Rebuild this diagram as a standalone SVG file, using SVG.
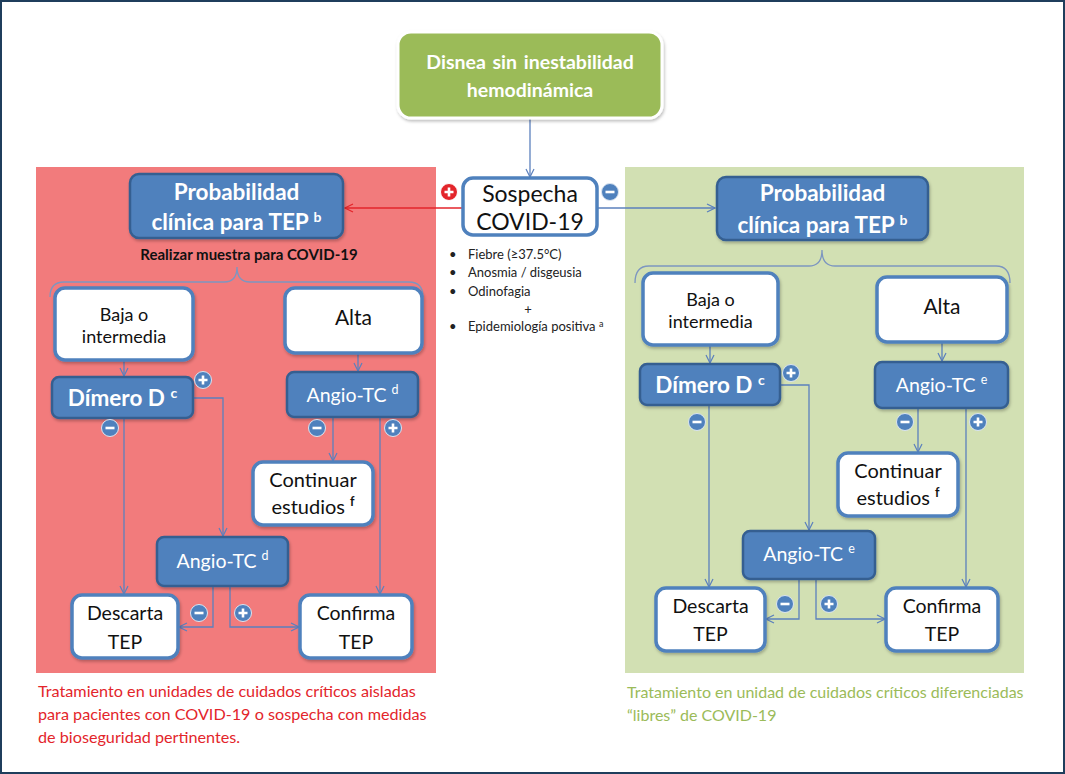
<svg xmlns="http://www.w3.org/2000/svg" width="1065" height="774" viewBox="0 0 1065 774">
<defs>
<style>
text{font-family:Lato,"Liberation Sans",Arial,sans-serif;}
.wbox{fill:#ffffff;stroke:#4f81bd;stroke-width:3.5;}
.bbox{fill:#4f81bd;stroke:#355f91;stroke-width:2.5;}
.conn{fill:none;stroke:#5b80bd;stroke-width:1.3;}
.brace{fill:none;stroke:#7d96c0;stroke-width:1.3;}
.tb{fill:#111111;text-anchor:middle;}
.tw{fill:#ffffff;text-anchor:middle;}
.bold{font-weight:bold;}
.list{fill:#222222;font-size:13px;}
</style>
<marker id="arr" markerWidth="10" markerHeight="10" refX="9" refY="5" orient="auto" markerUnits="userSpaceOnUse">
<path d="M1,1 L9,5 L1,9" fill="none" stroke="#5b80bd" stroke-width="1.2"/>
</marker>
<marker id="arrR" markerWidth="10" markerHeight="10" refX="9" refY="5" orient="auto" markerUnits="userSpaceOnUse">
<path d="M1,1 L9,5 L1,9" fill="none" stroke="#e3252b" stroke-width="1.2"/>
</marker>
<filter id="sh" x="-10%" y="-10%" width="125%" height="130%">
<feDropShadow dx="1" dy="2" stdDeviation="1.5" flood-color="#000000" flood-opacity="0.25"/>
</filter>
<g id="plus">
<circle r="8.5" fill="#4f81bd" stroke="#dbe5f1" stroke-width="1"/>
<path d="M-4.5,0 H4.5 M0,-4.5 V4.5" stroke="#ffffff" stroke-width="2.6"/>
</g>
<g id="minus">
<circle r="8.5" fill="#4f81bd" stroke="#dbe5f1" stroke-width="1"/>
<path d="M-4.5,0 H4.5" stroke="#ffffff" stroke-width="2.6"/>
</g>
<g id="plusR">
<circle r="8.5" fill="#e3252b" stroke="#ffffff" stroke-width="1"/>
<path d="M-4.5,0 H4.5 M0,-4.5 V4.5" stroke="#ffffff" stroke-width="2.6"/>
</g>
</defs>

<rect x="1" y="1" width="1063" height="772" fill="#ffffff" stroke="#1f3e5c" stroke-width="2"/>

<!-- panels -->
<rect id="panel-red" x="36" y="167" width="400" height="506" fill="#f27b7c"/>
<rect id="panel-green" x="625" y="167" width="399" height="506" fill="#d2e0b3"/>

<!-- connectors -->
<g id="connectors">
<path class="conn" d="M530,118 V177" marker-end="url(#arr)"/>
<path d="M463,208 H345" fill="none" stroke="#e3252b" stroke-width="1.3" marker-end="url(#arrR)"/>
<path class="conn" d="M597,208 H715" marker-end="url(#arr)"/>
<!-- left -->
<path class="brace" d="M50,297 Q50,282 64,282 L224,282 Q237,282 237,267 Q237,282 250,282 L409,282 Q423,282 423,297"/>
<path class="conn" d="M124,361 V376" marker-end="url(#arr)"/>
<path class="conn" d="M358,354 V371" marker-end="url(#arr)"/>
<path class="conn" d="M194,398 H223 V536" marker-end="url(#arr)"/>
<path class="conn" d="M124,419 V594" marker-end="url(#arr)"/>
<path class="conn" d="M333,418 V461" marker-end="url(#arr)"/>
<path class="conn" d="M380,418 V594" marker-end="url(#arr)"/>
<path class="conn" d="M213,587 V627 H179" marker-end="url(#arr)"/>
<path class="conn" d="M230,587 V627 H299" marker-end="url(#arr)"/>
<!-- right -->
<path class="brace" d="M635,283 Q635,266 649,266 L809,266 Q822,266 822,250 Q822,266 835,266 L996,266 Q1010,266 1010,283"/>
<path class="conn" d="M710,346 V363" marker-end="url(#arr)"/>
<path class="conn" d="M942,343 V361" marker-end="url(#arr)"/>
<path class="conn" d="M781,385 H809 V530" marker-end="url(#arr)"/>
<path class="conn" d="M709,406 V587" marker-end="url(#arr)"/>
<path class="conn" d="M918,409 V452" marker-end="url(#arr)"/>
<path class="conn" d="M966,409 V587" marker-end="url(#arr)"/>
<path class="conn" d="M799,580 V619 H766" marker-end="url(#arr)"/>
<path class="conn" d="M816,580 V619 H885" marker-end="url(#arr)"/>
</g>

<!-- center nodes -->
<g id="disnea">
<rect x="398" y="32" width="264" height="86" rx="13" fill="#9bbb59" stroke="#ffffff" stroke-width="3" filter="url(#sh)"/>
<text class="tw bold" x="530" y="69" font-size="19.5" word-spacing="2">Disnea sin inestabilidad</text>
<text class="tw bold" x="530" y="97" font-size="19.5">hemodinámica</text>
</g>
<g id="sospecha">
<rect class="wbox" x="463" y="178" width="134" height="57" rx="10"/>
<text class="tb" x="530" y="202" font-size="23">Sospecha</text>
<text class="tb" x="530" y="230" font-size="23">COVID-19</text>
<use href="#plusR" x="449" y="192"/>
<use href="#minus" x="610" y="192"/>
</g>
<g id="sintomas">
<text class="list" x="449" y="259">•</text>
<text class="list" x="468" y="259">Fiebre (≥37.5°C)</text>
<text class="list" x="449" y="277">•</text>
<text class="list" x="468" y="277">Anosmia / disgeusia</text>
<text class="list" x="449" y="296">•</text>
<text class="list" x="468" y="296">Odinofagia</text>
<text class="list" x="528" y="314" text-anchor="middle">+</text>
<text class="list" x="449" y="331">•</text>
<text class="list" x="468" y="331">Epidemiología positiva <tspan font-size="9" dy="-4">a</tspan></text>
</g>

<!-- left panel nodes -->
<g id="prob-left">
<rect class="bbox" x="130" y="174" width="213" height="64" rx="9" filter="url(#sh)"/>
<text class="tw bold" x="236.5" y="200" font-size="22.5">Probabilidad</text>
<text class="tw bold" x="236.5" y="230" font-size="22.5">clínica para TEP <tspan font-size="14" dy="-8">b</tspan></text>
</g>
<text id="realizar" class="tb bold" x="249" y="260" font-size="15">Realizar muestra para COVID-19</text>
<g id="baja-left">
<rect class="wbox" x="55" y="288" width="138" height="72" rx="10" filter="url(#sh)"/>
<text class="tb" x="124" y="321" font-size="18">Baja o</text>
<text class="tb" x="124" y="343" font-size="18">intermedia</text>
</g>
<g id="alta-left">
<rect class="wbox" x="285" y="288" width="137" height="65" rx="10" filter="url(#sh)"/>
<text class="tb" x="353.5" y="325" font-size="21">Alta</text>
</g>
<g id="dimero-left">
<rect class="bbox" x="52" y="377" width="141" height="41" rx="7" filter="url(#sh)"/>
<text class="tw bold" x="122.5" y="406" font-size="22.5">Dímero D <tspan font-size="14" dy="-8">c</tspan></text>
<use href="#plus" x="203" y="380"/>
<use href="#minus" x="110" y="428"/>
</g>
<g id="angio-left-1">
<rect class="bbox" x="287" y="372" width="131" height="45" rx="7" filter="url(#sh)"/>
<text class="tw" x="352.5" y="402" font-size="19.5">Angio-TC <tspan font-size="12.5" dy="-8">d</tspan></text>
<use href="#minus" x="317" y="428"/>
<use href="#plus" x="393" y="428"/>
</g>
<g id="continuar-left">
<rect class="wbox" x="253" y="462" width="120" height="63" rx="10" filter="url(#sh)"/>
<text class="tb" x="313" y="487" font-size="20">Continuar</text>
<text class="tb" x="313" y="514" font-size="20">estudios <tspan font-size="12.5" dy="-8" font-weight="bold">f</tspan></text>
</g>
<g id="angio-left-2">
<rect class="bbox" x="157" y="537" width="131" height="49" rx="7" filter="url(#sh)"/>
<text class="tw" x="222.5" y="568" font-size="19.5">Angio-TC <tspan font-size="12.5" dy="-8">d</tspan></text>
<use href="#minus" x="199" y="613"/>
<use href="#plus" x="243" y="613"/>
</g>
<g id="descarta-left">
<rect class="wbox" x="72" y="595" width="106" height="63" rx="10" filter="url(#sh)"/>
<text class="tb" x="125" y="620" font-size="19.5">Descarta</text>
<text class="tb" x="125" y="649" font-size="19.5">TEP</text>
</g>
<g id="confirma-left">
<rect class="wbox" x="300" y="595" width="112" height="63" rx="10" filter="url(#sh)"/>
<text class="tb" x="356" y="620" font-size="19.5">Confirma</text>
<text class="tb" x="356" y="649" font-size="19.5">TEP</text>
</g>

<!-- right panel nodes -->
<g id="prob-right">
<rect class="bbox" x="717" y="177" width="211" height="63" rx="9" filter="url(#sh)"/>
<text class="tw bold" x="822.5" y="201" font-size="22.5">Probabilidad</text>
<text class="tw bold" x="822.5" y="233" font-size="22.5">clínica para TEP <tspan font-size="14" dy="-8">b</tspan></text>
</g>
<g id="baja-right">
<rect class="wbox" x="643" y="273" width="135" height="72" rx="10" filter="url(#sh)"/>
<text class="tb" x="710.5" y="306" font-size="18">Baja o</text>
<text class="tb" x="710.5" y="328" font-size="18">intermedia</text>
</g>
<g id="alta-right">
<rect class="wbox" x="877" y="277" width="130" height="65" rx="10" filter="url(#sh)"/>
<text class="tb" x="942" y="314" font-size="21">Alta</text>
</g>
<g id="dimero-right">
<rect class="bbox" x="640" y="364" width="140" height="41" rx="7" filter="url(#sh)"/>
<text class="tw bold" x="710" y="393" font-size="22.5">Dímero D <tspan font-size="14" dy="-8">c</tspan></text>
<use href="#plus" x="791" y="373"/>
<use href="#minus" x="697" y="422"/>
</g>
<g id="angio-right-1">
<rect class="bbox" x="875" y="362" width="133" height="46" rx="7" filter="url(#sh)"/>
<text class="tw" x="941.5" y="392" font-size="19.5">Angio-TC <tspan font-size="12.5" dy="-8">e</tspan></text>
<use href="#minus" x="905" y="422"/>
<use href="#plus" x="978" y="422"/>
</g>
<g id="continuar-right">
<rect class="wbox" x="838" y="453" width="120" height="63" rx="10" filter="url(#sh)"/>
<text class="tb" x="898" y="478" font-size="20">Continuar</text>
<text class="tb" x="898" y="505" font-size="20">estudios <tspan font-size="12.5" dy="-8" font-weight="bold">f</tspan></text>
</g>
<g id="angio-right-2">
<rect class="bbox" x="743" y="531" width="132" height="48" rx="7" filter="url(#sh)"/>
<text class="tw" x="809" y="561" font-size="19.5">Angio-TC <tspan font-size="12.5" dy="-8">e</tspan></text>
<use href="#minus" x="785" y="604"/>
<use href="#plus" x="829" y="604"/>
</g>
<g id="descarta-right">
<rect class="wbox" x="656" y="588" width="109" height="63" rx="10" filter="url(#sh)"/>
<text class="tb" x="710.5" y="613" font-size="19.5">Descarta</text>
<text class="tb" x="710.5" y="641" font-size="19.5">TEP</text>
</g>
<g id="confirma-right">
<rect class="wbox" x="886" y="588" width="112" height="63" rx="10" filter="url(#sh)"/>
<text class="tb" x="942" y="613" font-size="19.5">Confirma</text>
<text class="tb" x="942" y="641" font-size="19.5">TEP</text>
</g>

<!-- notes -->
<g id="nota-roja" fill="#e3252b" font-size="16.2">
<text x="38" y="697">Tratamiento en unidades de cuidados críticos aisladas</text>
<text x="38" y="720">para pacientes con COVID-19 o sospecha con medidas</text>
<text x="38" y="743">de bioseguridad pertinentes.</text>
</g>
<g id="nota-verde" fill="#9bbb59" font-size="16">
<text x="627" y="698">Tratamiento en unidad de cuidados críticos diferenciadas</text>
<text x="627" y="721">“libres” de COVID-19</text>
</g>
</svg>
